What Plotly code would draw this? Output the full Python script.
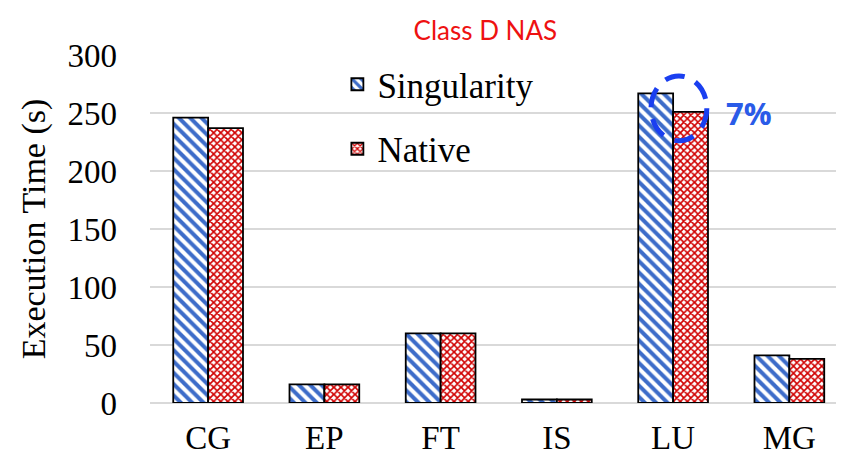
import plotly.graph_objects as go

# data
benchmarks = ['CG', 'EP', 'FT', 'IS', 'LU', 'MG']
singularity = [246, 16, 60, 3, 267, 41]
native = [237, 16, 60, 3, 251, 38]

serif = 'Liberation Serif, Times New Roman, serif'

fig = go.Figure()
fig.add_trace(go.Bar(
    x=benchmarks, y=singularity, name='Singularity', legendgroup='s',
    marker=dict(color='white', line=dict(color='black', width=1.8),
                pattern=dict(shape='\\', fgcolor='#3d6cc9', bgcolor='white', fgopacity=1,
                             size=8, solidity=0.5, fillmode='overlay')),
))
fig.add_trace(go.Bar(
    x=benchmarks, y=native, name='Native', legendgroup='n',
    marker=dict(color='white', line=dict(color='black', width=1.8),
                pattern=dict(shape='x', fgcolor='#d00000', bgcolor='white', fgopacity=1,
                             size=5, solidity=0.55, fillmode='overlay')),
))

# 7% callout round the LU pair
fig.add_shape(type='circle', xref='x', yref='y', x0=3.81, x1=4.29, y0=226, y1=282,
              line=dict(color='#1a3ff0', width=5, dash='20px,12px'))
fig.add_annotation(x=4.65, y=250, xref='x', yref='y', text='<b>7%</b>', showarrow=False,
                   font=dict(family='Open Sans, Liberation Sans, sans-serif', size=31, color='#2a5be8'))

# the page body adds an 8px offset, so the figure is sized to fit inside the window
fig.update_layout(
    width=836, height=448,
    margin=dict(l=142, r=0, t=47, b=53),
    paper_bgcolor='white', plot_bgcolor='white',
    barmode='group', bargap=0.4, bargroupgap=0,
    title=dict(text='Class D NAS', x=0.571, xanchor='center', y=0.95, yanchor='middle',
               font=dict(family='Lato, Open Sans, sans-serif', size=26, color='#ee1111')),
    legend=dict(x=0.27, y=1.0, xanchor='left', yanchor='top', bgcolor='rgba(0,0,0,0)',
                font=dict(family=serif, size=35, color='black'),
                tracegroupgap=16, itemwidth=30),
    showlegend=True,
)
fig.update_xaxes(range=[-0.5, 5.47], showgrid=False, showline=False, ticks='', automargin=False,
                 tickfont=dict(family=serif, size=33, color='black'), ticklabelstandoff=12)
fig.update_yaxes(range=[0, 300], dtick=50, showgrid=True, gridcolor='#d9d9d9', gridwidth=1.5,
                 zeroline=True, zerolinecolor='#d9d9d9', zerolinewidth=1.5, automargin=False,
                 tickfont=dict(family=serif, size=33, color='black'), ticklabelstandoff=32,
                 title=dict(text='Execution Time (s)', standoff=11,
                            font=dict(family=serif, size=34, color='black')))

fig.write_html('out.html')
